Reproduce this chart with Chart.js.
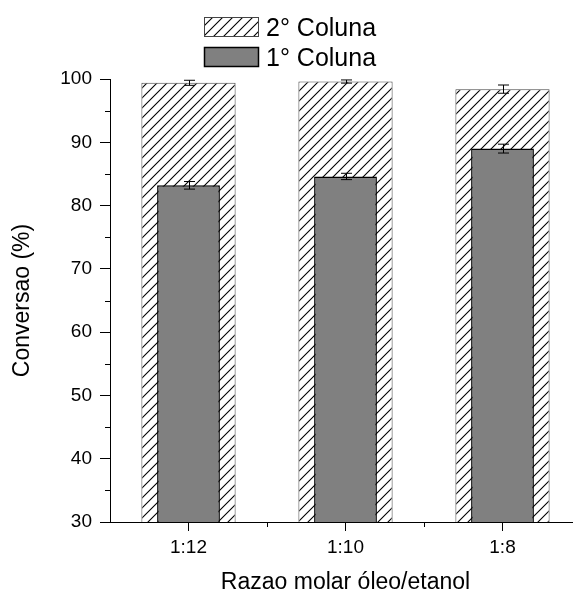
<!DOCTYPE html>
<html>
<head>
<meta charset="utf-8">
<script src="https://cdn.jsdelivr.net/npm/chart.js@4.4.1/dist/chart.umd.min.js"></script>
<style>
html, body { margin: 0; padding: 0; background: #fff; overflow: hidden; }
</style>
</head>
<body>
<canvas id="myChart" width="590" height="594"></canvas>
<script>
var labels = ['1:12', '1:10', '1:8'];
var seriesNames = ['2° Coluna', '1° Coluna'];
var coluna2 = [99.4, 99.6, 98.4];
var coluna2Err = [0.4, 0.25, 0.65];
var coluna1 = [83.2, 84.6, 89.0];
var coluna1Err = [0.6, 0.5, 0.7];
var yTicks = [30, 40, 50, 60, 70, 80, 90, 100];
var yMinorTicks = [35, 45, 55, 65, 75, 85, 95];

var FONT = '"Liberation Sans", Arial, Helvetica, sans-serif';

// diagonal "/" hatch used by the 2nd column bars
function makeHatch(step) {
    var c = document.createElement('canvas');
    c.width = step;
    c.height = step;
    var g = c.getContext('2d');
    g.fillStyle = '#fff';
    g.fillRect(0, 0, step, step);
    g.strokeStyle = '#000';
    g.lineWidth = 1.1;
    g.beginPath();
    g.moveTo(0, step); g.lineTo(step, 0);
    g.moveTo(-1, 1); g.lineTo(1, -1);
    g.moveTo(step - 1, step + 1); g.lineTo(step + 1, step - 1);
    g.stroke();
    return g.createPattern(c, 'repeat');
}

var errorBars = {
    id: 'errorBars',
    afterDatasetsDraw: function (chart) {
        var ctx = chart.ctx;
        var y = chart.scales.y;
        ctx.save();
        ctx.strokeStyle = '#000';
        ctx.lineWidth = 1;
        chart.data.datasets.forEach(function (ds, i) {
            var meta = chart.getDatasetMeta(i);
            meta.data.forEach(function (bar, j) {
                var v = ds.data[j], e = ds.errors[j];
                var top = y.getPixelForValue(v + e);
                var bot = y.getPixelForValue(v - e);
                var x = Math.round(bar.x) + 0.5;
                ctx.beginPath();
                ctx.moveTo(x, top); ctx.lineTo(x, bot);
                ctx.moveTo(x - 5.5, top); ctx.lineTo(x + 5.5, top);
                ctx.moveTo(x - 5.5, bot); ctx.lineTo(x + 5.5, bot);
                ctx.stroke();
            });
        });
        ctx.restore();
    }
};

var minorTicks = {
    id: 'minorTicks',
    afterDraw: function (chart) {
        var ctx = chart.ctx;
        var x = chart.scales.x, y = chart.scales.y;
        var area = chart.chartArea;
        ctx.save();
        ctx.strokeStyle = '#000';
        ctx.lineWidth = 1;
        ctx.beginPath();
        yMinorTicks.forEach(function (v) {
            var py = Math.round(y.getPixelForValue(v)) + 0.5;
            ctx.moveTo(area.left - 5, py); ctx.lineTo(area.left, py);
        });
        for (var k = 0; k < labels.length; k++) {
            var px = Math.round(x.getPixelForValue(k + 0.5)) + 0.5;
            ctx.moveTo(px, area.bottom); ctx.lineTo(px, area.bottom + 5);
        }
        ctx.stroke();
        ctx.restore();
    }
};

var legendBox = {
    id: 'legendBox',
    afterDraw: function (chart) {
        var ctx = chart.ctx;
        ctx.save();
        chart.data.datasets.forEach(function (ds, i) {
            var top = 17 + i * 30;
            ctx.fillStyle = ds.backgroundColor;
            ctx.fillRect(204, top, 55, 20);
            ctx.strokeStyle = ds.borderColor;
            ctx.lineWidth = ds.borderWidth;
            ctx.strokeRect(204.5, top + 0.5, 54, 19);
            ctx.fillStyle = '#000';
            ctx.font = '25px ' + FONT;
            ctx.textBaseline = 'alphabetic';
            ctx.fillText(ds.label, 266, top + 19.3);
        });
        ctx.restore();
    }
};

var ctx = document.getElementById('myChart').getContext('2d');
var hatch = makeHatch(10);

var myChart = new Chart(ctx, {
    type: 'bar',
    data: {
        labels: labels,
        datasets: [{
            label: seriesNames[0],
            data: coluna2,
            errors: coluna2Err,
            backgroundColor: hatch,
            borderColor: '#444',
            borderWidth: 1,
            barPercentage: 0.6,
            categoryPercentage: 1,
            grouped: false,
            order: 2
        }, {
            label: seriesNames[1],
            data: coluna1,
            errors: coluna1Err,
            backgroundColor: '#808080',
            borderColor: '#000',
            borderWidth: 1.5,
            barPercentage: 0.4,
            categoryPercentage: 1,
            grouped: false,
            order: 1
        }]
    },
    options: {
        responsive: false,
        animation: false,
        layout: { padding: { top: 79, right: 9, bottom: 0, left: 0 } },
        plugins: {
            legend: { display: false },
            tooltip: { enabled: false }
        },
        scales: {
            x: {
                type: 'category',
                offset: true,
                grid: { offset: false, drawOnChartArea: false, color: '#000', tickLength: 9 },
                border: { color: '#000', width: 1 },
                ticks: { color: '#000', font: { family: FONT, size: 19 }, padding: 5, maxRotation: 0 },
                title: {
                    display: true,
                    text: 'Razao molar óleo/etanol',
                    color: '#000',
                    font: { family: FONT, size: 23, lineHeight: 1 },
                    padding: 0
                },
                afterFit: function (s) { s.height = 72; }
            },
            y: {
                min: 30,
                max: 100,
                afterBuildTicks: function (axis) {
                    axis.ticks = yTicks.map(function (v) { return { value: v }; });
                },
                grid: { drawOnChartArea: false, color: '#000', tickLength: 10 },
                border: { color: '#000', width: 1 },
                ticks: { color: '#000', font: { family: FONT, size: 19 }, padding: 8 },
                title: {
                    display: true,
                    text: 'Conversao (%)',
                    color: '#000',
                    font: { family: FONT, size: 23, lineHeight: 1 },
                    padding: { top: 11, bottom: 0 }
                },
                afterFit: function (s) { s.width = 110; }
            }
        }
    },
    plugins: [errorBars, minorTicks, legendBox]
});
</script>
</body>
</html>
